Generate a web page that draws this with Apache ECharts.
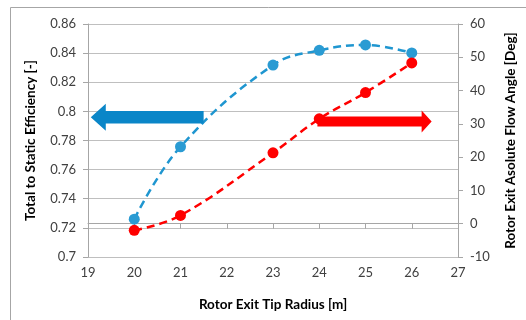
<!DOCTYPE html>
<html>
<head>
<meta charset="utf-8">
<style>html,body{margin:0;padding:0;background:#fff;}#c{width:526px;height:320px;}</style>
<script src="https://cdn.jsdelivr.net/npm/echarts@6/dist/echarts.min.js"></script>
</head>
<body>
<div id="c"></div>
<script>
var radius = [20, 21, 23, 24, 25, 26];
var efficiency = [0.726, 0.7757, 0.8318, 0.8419, 0.8456, 0.8401];
var flowAngle = [-2.0, 2.5, 21.3, 31.5, 39.4, 48.3];
// arrows: [tail x, tip x, y]
var blueArrow = [[21.5, 19.06, 0.7959]];
var redArrow = [[23.96, 26.43, 30.7]];
var xLabel = 'Rotor Exit Tip Radius [m]';
var yLeftLabel = 'Total to Static Efficiency [-]';
var yRightLabel = 'Rotor Exit Asolute Flow Angle [Deg]';

var FONT = 'Lato';
var chart = echarts.init(document.getElementById('c'), null, {renderer: 'canvas'});

function arrowRender(shaft, headH, headL, color) {
  return function (params, api) {
    var a = api.coord([api.value(0), api.value(2)]);
    var b = api.coord([api.value(1), api.value(2)]);
    var dir = b[0] > a[0] ? 1 : -1;
    var y = a[1];
    var hb = b[0] - dir * headL;
    var pts = [
      [a[0], y - shaft / 2], [hb, y - shaft / 2], [hb, y - headH / 2],
      [b[0], y], [hb, y + headH / 2], [hb, y + shaft / 2], [a[0], y + shaft / 2]
    ];
    return {type: 'polygon', shape: {points: pts}, style: {fill: color}, z2: 10};
  };
}

var axisLineStyle = {show: true, lineStyle: {color: '#a6a6a6', width: 1}};
var tickStyle = {show: true, length: 5, lineStyle: {color: '#a6a6a6'}};
var labelStyle = {color: '#404040', fontSize: 13, fontFamily: FONT};
var nameStyle = {color: '#000', fontSize: 13.5, fontWeight: 'bold', fontFamily: FONT};

chart.setOption({
  animation: false,
  graphic: [{
    type: 'polyline',
    shape: {points: [[10.5, 330], [10.5, 7.5], [540, 7.5]]},
    style: {stroke: '#a6a6a6', lineWidth: 1, fill: null}
  }],
  grid: {left: 88, right: 64, top: 24, bottom: 63, containLabel: false},
  xAxis: {
    type: 'value', min: 19, max: 27, interval: 1,
    name: xLabel, nameLocation: 'middle', nameGap: 41, nameTextStyle: nameStyle,
    axisLine: axisLineStyle, axisTick: tickStyle,
    axisLabel: Object.assign({margin: 9}, labelStyle),
    splitLine: {show: false}
  },
  yAxis: [{
    type: 'value', min: 0.7, max: 0.86, interval: 0.02, position: 'left',
    name: yLeftLabel, nameLocation: 'middle', nameGap: 50, nameTextStyle: nameStyle,
    axisLine: axisLineStyle, axisTick: tickStyle,
    axisLabel: Object.assign({margin: 12, formatter: function (v) { return String(+v.toFixed(2)); }}, labelStyle),
    splitLine: {show: true, lineStyle: {color: '#bfbfbf', width: 1}}
  }, {
    type: 'value', min: -10, max: 60, interval: 10, position: 'right',
    name: yRightLabel, nameLocation: 'middle', nameGap: 46, nameRotate: 90, nameTextStyle: nameStyle,
    axisLine: axisLineStyle, axisTick: tickStyle,
    axisLabel: Object.assign({margin: 12}, labelStyle),
    splitLine: {show: false}
  }],
  series: [{
    type: 'line', yAxisIndex: 0,
    data: radius.map(function (x, i) { return [x, efficiency[i]]; }),
    smooth: 0.4, symbol: 'circle', symbolSize: 11,
    lineStyle: {color: '#1f96d0', width: 2.5, type: [8, 5]},
    itemStyle: {color: '#2a9bd3'}, z: 3
  }, {
    type: 'line', yAxisIndex: 1,
    data: radius.map(function (x, i) { return [x, flowAngle[i]]; }),
    smooth: 0.4, symbol: 'circle', symbolSize: 11,
    lineStyle: {color: '#ff0000', width: 2.5, type: [8, 5]},
    itemStyle: {color: '#ff0000'}, z: 3
  }, {
    type: 'custom', yAxisIndex: 0, data: blueArrow, z: 4,
    renderItem: arrowRender(12.5, 27, 15, '#0a86c8'), silent: true
  }, {
    type: 'custom', yAxisIndex: 1, data: redArrow, z: 4,
    renderItem: arrowRender(10, 22, 10, '#ff0000'), silent: true
  }]
});
</script>
</body>
</html>
